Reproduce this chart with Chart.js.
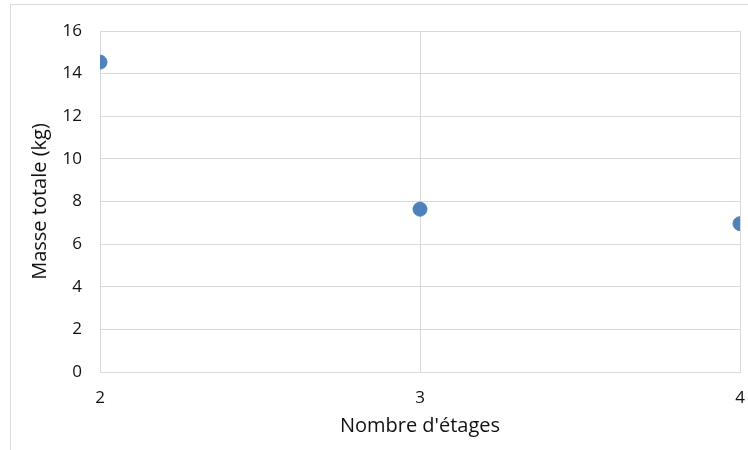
<!DOCTYPE html>
<html>
<head>
<meta charset="utf-8">
<script src="https://cdn.jsdelivr.net/npm/chart.js"></script>
<style>
    body { margin: 0; background: #fff; }
    #wrap { width: 748px; height: 450px; position: relative; }
</style>
</head>
<body>
<div id="wrap"><canvas id="myChart" width="748" height="450"></canvas></div>
<script>
const etages = [2, 3, 4];
const masses = [14.54, 7.64, 6.96];
const xTitle = "Nombre d'étages";
const yTitle = "Masse totale (kg)";

const gridColor = '#d9d9d9';
const fontName = "'Open Sans', sans-serif";

// light frame of the chart box (left and top edges only show)
const framePlugin = {
    id: 'frame',
    beforeDraw(chart) {
        const ctx = chart.ctx;
        ctx.save();
        ctx.strokeStyle = gridColor;
        ctx.lineWidth = 1;
        ctx.beginPath();
        ctx.moveTo(10.5, 450);
        ctx.lineTo(10.5, 4.5);
        ctx.lineTo(748, 4.5);
        ctx.stroke();
        ctx.restore();
    }
};

const points = etages.map((x, i) => ({ x: x, y: masses[i] }));

const ctx = document.getElementById('myChart').getContext('2d');
const myChart = new Chart(ctx, {
    type: 'scatter',
    data: {
        datasets: [{
            label: 'Masse',
            data: points,
            backgroundColor: '#4f81bd',
            borderColor: '#4f81bd',
            pointRadius: 7,
            pointHoverRadius: 7
        }]
    },
    options: {
        responsive: false,
        animation: false,
        layout: { padding: { left: 0, right: 8, top: 31, bottom: 0 } },
        plugins: {
            legend: { display: false },
            tooltip: { enabled: false }
        },
        scales: {
            x: {
                type: 'linear',
                min: 2,
                max: 4,
                ticks: {
                    stepSize: 1,
                    padding: 16,
                    color: '#111',
                    font: { family: fontName, size: 17 }
                },
                grid: { color: gridColor, drawTicks: false },
                border: { color: gridColor },
                title: {
                    display: true,
                    text: xTitle,
                    color: '#111',
                    font: { family: fontName, size: 20 },
                    padding: { top: 0, bottom: 12 }
                },
                afterFit(scale) {
                    scale.height = 78;
                    scale.paddingLeft = 0;
                    scale.paddingRight = 0;
                }
            },
            y: {
                min: 0,
                max: 16,
                ticks: {
                    stepSize: 2,
                    padding: 18,
                    color: '#111',
                    font: { family: fontName, size: 17 }
                },
                grid: { color: gridColor, drawTicks: false },
                border: { color: gridColor },
                title: {
                    display: true,
                    text: yTitle,
                    color: '#111',
                    font: { family: fontName, size: 20 },
                    padding: { top: 28, bottom: 0 }
                },
                afterFit(scale) {
                    scale.width = 100;
                    scale.paddingTop = 0;
                    scale.paddingBottom = 0;
                }
            }
        }
    },
    plugins: [framePlugin]
});
</script>
</body>
</html>
